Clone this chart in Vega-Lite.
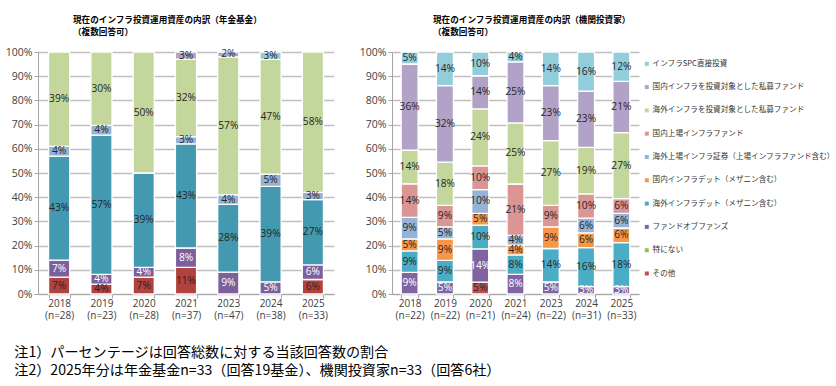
{
  "$schema": "https://vega.github.io/schema/vega-lite/v6.json",
  "background": "white",
  "padding": {"left": 5, "top": 15, "right": 0, "bottom": 0},
  "config": {
    "view": {"stroke": null},
    "font": "Open Sans",
    "axis": {
      "domainColor": "#A6A6A6",
      "tickColor": "#A6A6A6",
      "gridColor": "#BFBFBF",
      "gridWidth": 1.3,
      "labelColor": "#404040",
      "labelFontSize": 10.5,
      "labelFont": "Open Sans",
      "tickSize": 4
    },
    "legend": {
      "labelFont": "Noto Sans CJK JP",
      "labelFontSize": 7.6,
      "labelColor": "#333333"
    }
  },
  "title": {
    "text": ["注1）パーセンテージは回答総数に対する当該回答数の割合", "注2）2025年分は年金基金n=33（回答19基金）、機関投資家n=33（回答6社）"],
    "orient": "bottom",
    "anchor": "start",
    "font": "Noto Sans CJK JP",
    "fontSize": 14.1,
    "fontWeight": "normal",
    "lineHeight": 18,
    "color": "#000000",
    "offset": 25,
    "dx": 9
  },
  "datasets": {
    "pension": [
      {"x": "2018|(n=28)", "cat": "その他", "k": 9, "v": 7},
      {"x": "2018|(n=28)", "cat": "ファンドオブファンズ", "k": 7, "v": 7},
      {"x": "2018|(n=28)", "cat": "海外インフラデット（メザニン含む）", "k": 6, "v": 43},
      {"x": "2018|(n=28)", "cat": "海外上場インフラ証券（上場インフラファンド含む）", "k": 4, "v": 4},
      {"x": "2018|(n=28)", "cat": "海外インフラを投資対象とした私募ファンド", "k": 2, "v": 39},
      {"x": "2019|(n=23)", "cat": "その他", "k": 9, "v": 4},
      {"x": "2019|(n=23)", "cat": "ファンドオブファンズ", "k": 7, "v": 4},
      {"x": "2019|(n=23)", "cat": "海外インフラデット（メザニン含む）", "k": 6, "v": 57},
      {"x": "2019|(n=23)", "cat": "海外上場インフラ証券（上場インフラファンド含む）", "k": 4, "v": 4},
      {"x": "2019|(n=23)", "cat": "海外インフラを投資対象とした私募ファンド", "k": 2, "v": 30},
      {"x": "2020|(n=28)", "cat": "その他", "k": 9, "v": 7},
      {"x": "2020|(n=28)", "cat": "ファンドオブファンズ", "k": 7, "v": 4},
      {"x": "2020|(n=28)", "cat": "海外インフラデット（メザニン含む）", "k": 6, "v": 39},
      {"x": "2020|(n=28)", "cat": "海外インフラを投資対象とした私募ファンド", "k": 2, "v": 50},
      {"x": "2021|(n=37)", "cat": "その他", "k": 9, "v": 11},
      {"x": "2021|(n=37)", "cat": "ファンドオブファンズ", "k": 7, "v": 8},
      {"x": "2021|(n=37)", "cat": "海外インフラデット（メザニン含む）", "k": 6, "v": 43},
      {"x": "2021|(n=37)", "cat": "海外上場インフラ証券（上場インフラファンド含む）", "k": 4, "v": 3},
      {"x": "2021|(n=37)", "cat": "海外インフラを投資対象とした私募ファンド", "k": 2, "v": 32},
      {"x": "2021|(n=37)", "cat": "国内インフラを投資対象とした私募ファンド", "k": 1, "v": 3},
      {"x": "2023|(n=47)", "cat": "ファンドオブファンズ", "k": 7, "v": 9},
      {"x": "2023|(n=47)", "cat": "海外インフラデット（メザニン含む）", "k": 6, "v": 28},
      {"x": "2023|(n=47)", "cat": "海外上場インフラ証券（上場インフラファンド含む）", "k": 4, "v": 4},
      {"x": "2023|(n=47)", "cat": "海外インフラを投資対象とした私募ファンド", "k": 2, "v": 57},
      {"x": "2023|(n=47)", "cat": "国内インフラを投資対象とした私募ファンド", "k": 1, "v": 2},
      {"x": "2024|(n=38)", "cat": "ファンドオブファンズ", "k": 7, "v": 5},
      {"x": "2024|(n=38)", "cat": "海外インフラデット（メザニン含む）", "k": 6, "v": 39},
      {"x": "2024|(n=38)", "cat": "海外上場インフラ証券（上場インフラファンド含む）", "k": 4, "v": 5},
      {"x": "2024|(n=38)", "cat": "海外インフラを投資対象とした私募ファンド", "k": 2, "v": 47},
      {"x": "2024|(n=38)", "cat": "インフラSPC直接投資", "k": 0, "v": 3},
      {"x": "2025|(n=33)", "cat": "その他", "k": 9, "v": 6},
      {"x": "2025|(n=33)", "cat": "ファンドオブファンズ", "k": 7, "v": 6},
      {"x": "2025|(n=33)", "cat": "海外インフラデット（メザニン含む）", "k": 6, "v": 27},
      {"x": "2025|(n=33)", "cat": "海外上場インフラ証券（上場インフラファンド含む）", "k": 4, "v": 3},
      {"x": "2025|(n=33)", "cat": "海外インフラを投資対象とした私募ファンド", "k": 2, "v": 58}
    ],
    "inst": [
      {"x": "2018|(n=22)", "cat": "ファンドオブファンズ", "k": 7, "v": 9},
      {"x": "2018|(n=22)", "cat": "海外インフラデット（メザニン含む）", "k": 6, "v": 9},
      {"x": "2018|(n=22)", "cat": "国内インフラデット（メザニン含む）", "k": 5, "v": 5},
      {"x": "2018|(n=22)", "cat": "海外上場インフラ証券（上場インフラファンド含む）", "k": 4, "v": 9},
      {"x": "2018|(n=22)", "cat": "国内上場インフラファンド", "k": 3, "v": 14},
      {"x": "2018|(n=22)", "cat": "海外インフラを投資対象とした私募ファンド", "k": 2, "v": 14},
      {"x": "2018|(n=22)", "cat": "国内インフラを投資対象とした私募ファンド", "k": 1, "v": 36},
      {"x": "2018|(n=22)", "cat": "インフラSPC直接投資", "k": 0, "v": 5},
      {"x": "2019|(n=22)", "cat": "ファンドオブファンズ", "k": 7, "v": 5},
      {"x": "2019|(n=22)", "cat": "海外インフラデット（メザニン含む）", "k": 6, "v": 9},
      {"x": "2019|(n=22)", "cat": "国内インフラデット（メザニン含む）", "k": 5, "v": 9},
      {"x": "2019|(n=22)", "cat": "海外上場インフラ証券（上場インフラファンド含む）", "k": 4, "v": 5},
      {"x": "2019|(n=22)", "cat": "国内上場インフラファンド", "k": 3, "v": 9},
      {"x": "2019|(n=22)", "cat": "海外インフラを投資対象とした私募ファンド", "k": 2, "v": 18},
      {"x": "2019|(n=22)", "cat": "国内インフラを投資対象とした私募ファンド", "k": 1, "v": 32},
      {"x": "2019|(n=22)", "cat": "インフラSPC直接投資", "k": 0, "v": 14},
      {"x": "2020|(n=21)", "cat": "その他", "k": 9, "v": 5},
      {"x": "2020|(n=21)", "cat": "ファンドオブファンズ", "k": 7, "v": 14},
      {"x": "2020|(n=21)", "cat": "海外インフラデット（メザニン含む）", "k": 6, "v": 10},
      {"x": "2020|(n=21)", "cat": "国内インフラデット（メザニン含む）", "k": 5, "v": 5},
      {"x": "2020|(n=21)", "cat": "海外上場インフラ証券（上場インフラファンド含む）", "k": 4, "v": 10},
      {"x": "2020|(n=21)", "cat": "国内上場インフラファンド", "k": 3, "v": 10},
      {"x": "2020|(n=21)", "cat": "海外インフラを投資対象とした私募ファンド", "k": 2, "v": 24},
      {"x": "2020|(n=21)", "cat": "国内インフラを投資対象とした私募ファンド", "k": 1, "v": 14},
      {"x": "2020|(n=21)", "cat": "インフラSPC直接投資", "k": 0, "v": 10},
      {"x": "2021|(n=24)", "cat": "ファンドオブファンズ", "k": 7, "v": 8},
      {"x": "2021|(n=24)", "cat": "海外インフラデット（メザニン含む）", "k": 6, "v": 8},
      {"x": "2021|(n=24)", "cat": "国内インフラデット（メザニン含む）", "k": 5, "v": 4},
      {"x": "2021|(n=24)", "cat": "海外上場インフラ証券（上場インフラファンド含む）", "k": 4, "v": 4},
      {"x": "2021|(n=24)", "cat": "国内上場インフラファンド", "k": 3, "v": 21},
      {"x": "2021|(n=24)", "cat": "海外インフラを投資対象とした私募ファンド", "k": 2, "v": 25},
      {"x": "2021|(n=24)", "cat": "国内インフラを投資対象とした私募ファンド", "k": 1, "v": 25},
      {"x": "2021|(n=24)", "cat": "インフラSPC直接投資", "k": 0, "v": 4},
      {"x": "2023|(n=22)", "cat": "ファンドオブファンズ", "k": 7, "v": 5},
      {"x": "2023|(n=22)", "cat": "海外インフラデット（メザニン含む）", "k": 6, "v": 14},
      {"x": "2023|(n=22)", "cat": "国内インフラデット（メザニン含む）", "k": 5, "v": 9},
      {"x": "2023|(n=22)", "cat": "国内上場インフラファンド", "k": 3, "v": 9},
      {"x": "2023|(n=22)", "cat": "海外インフラを投資対象とした私募ファンド", "k": 2, "v": 27},
      {"x": "2023|(n=22)", "cat": "国内インフラを投資対象とした私募ファンド", "k": 1, "v": 23},
      {"x": "2023|(n=22)", "cat": "インフラSPC直接投資", "k": 0, "v": 14},
      {"x": "2024|(n=31)", "cat": "ファンドオブファンズ", "k": 7, "v": 3},
      {"x": "2024|(n=31)", "cat": "海外インフラデット（メザニン含む）", "k": 6, "v": 16},
      {"x": "2024|(n=31)", "cat": "国内インフラデット（メザニン含む）", "k": 5, "v": 6},
      {"x": "2024|(n=31)", "cat": "海外上場インフラ証券（上場インフラファンド含む）", "k": 4, "v": 6},
      {"x": "2024|(n=31)", "cat": "国内上場インフラファンド", "k": 3, "v": 10},
      {"x": "2024|(n=31)", "cat": "海外インフラを投資対象とした私募ファンド", "k": 2, "v": 19},
      {"x": "2024|(n=31)", "cat": "国内インフラを投資対象とした私募ファンド", "k": 1, "v": 23},
      {"x": "2024|(n=31)", "cat": "インフラSPC直接投資", "k": 0, "v": 16},
      {"x": "2025|(n=33)", "cat": "ファンドオブファンズ", "k": 7, "v": 3},
      {"x": "2025|(n=33)", "cat": "海外インフラデット（メザニン含む）", "k": 6, "v": 18},
      {"x": "2025|(n=33)", "cat": "国内インフラデット（メザニン含む）", "k": 5, "v": 6},
      {"x": "2025|(n=33)", "cat": "海外上場インフラ証券（上場インフラファンド含む）", "k": 4, "v": 6},
      {"x": "2025|(n=33)", "cat": "国内上場インフラファンド", "k": 3, "v": 6},
      {"x": "2025|(n=33)", "cat": "海外インフラを投資対象とした私募ファンド", "k": 2, "v": 27},
      {"x": "2025|(n=33)", "cat": "国内インフラを投資対象とした私募ファンド", "k": 1, "v": 21},
      {"x": "2025|(n=33)", "cat": "インフラSPC直接投資", "k": 0, "v": 12}
    ]
  },
  "resolve": {"scale": {"color": "independent"}},
  "spacing": 25,
  "hconcat": [
    {
      "width": 296,
      "height": 242,
      "title": {
        "text": ["現在のインフラ投資運用資産の内訳（年金基金）", "（複数回答可）"],
        "anchor": "start",
        "frame": "group",
        "dx": 35,
        "font": "Noto Sans CJK JP",
        "fontSize": 8.6,
        "fontWeight": "bold",
        "lineHeight": 12.5,
        "color": "#000000",
        "offset": 10
      },
      "data": {"name": "pension"},
      "transform": [
        {"stack": "v", "groupby": ["x"], "sort": [{"field": "k", "order": "descending"}], "as": ["y0", "y1"], "offset": "normalize"},
        {"calculate": "(datum.y0 + datum.y1) / 2", "as": "ym"},
        {"calculate": "datum.v + '%'", "as": "lbl"}
      ],
      "encoding": {
        "x": {
          "field": "x", "type": "nominal", "title": null,
          "scale": {"paddingInner": 0.5, "paddingOuter": 0.25},
          "axis": {"labelAngle": 0, "labelExpr": "datum.value ? split(datum.value, '|') : ''", "tickBand": "extent", "labelFontSize": 10, "labelLineHeight": 12.5, "labelPadding": 0}
        }
      },
      "layer": [
        {
          "mark": {"type": "bar", "stroke": "white", "strokeWidth": 1.3},
          "encoding": {
            "y": {"field": "y0", "type": "quantitative", "title": null, "scale": {"domain": [0, 1]}, "axis": {"format": ".0%", "tickCount": 10, "labelPadding": 2}},
            "y2": {"field": "y1"},
            "color": {
              "field": "cat", "type": "nominal", "legend": null,
              "scale": {
                "domain": ["インフラSPC直接投資", "国内インフラを投資対象とした私募ファンド", "海外インフラを投資対象とした私募ファンド", "海外上場インフラ証券（上場インフラファンド含む）", "海外インフラデット（メザニン含む）", "ファンドオブファンズ", "その他"],
                "range": ["#92CDDC", "#B3A2C7", "#C3D69B", "#95B3D7", "#4299B0", "#7D5F9B", "#B0423F"]
              }
            }
          }
        },
        {
          "mark": {"type": "text", "fontSize": 10.2, "font": "Open Sans"},
          "encoding": {
            "y": {"field": "ym", "type": "quantitative"},
            "text": {"field": "lbl"},
            "color": {"condition": {"test": "datum.cat === 'ファンドオブファンズ'", "value": "#FFFFFF"}, "value": "#262626"}
          }
        }
      ]
    },
    {
      "width": 247,
      "height": 242,
      "title": {
        "text": ["現在のインフラ投資運用資産の内訳（機関投資家）", "（複数回答可）"],
        "anchor": "start",
        "frame": "group",
        "dx": 41,
        "font": "Noto Sans CJK JP",
        "fontSize": 8.6,
        "fontWeight": "bold",
        "lineHeight": 12.5,
        "color": "#000000",
        "offset": 10
      },
      "data": {"name": "inst"},
      "transform": [
        {"stack": "v", "groupby": ["x"], "sort": [{"field": "k", "order": "descending"}], "as": ["y0", "y1"], "offset": "normalize"},
        {"calculate": "(datum.y0 + datum.y1) / 2", "as": "ym"},
        {"calculate": "datum.v + '%'", "as": "lbl"}
      ],
      "encoding": {
        "x": {
          "field": "x", "type": "nominal", "title": null,
          "scale": {"paddingInner": 0.52, "paddingOuter": 0.26},
          "axis": {"labelAngle": 0, "labelExpr": "datum.value ? split(datum.value, '|') : ''", "tickBand": "extent", "labelFontSize": 10, "labelLineHeight": 12.5, "labelPadding": 0}
        }
      },
      "layer": [
        {
          "mark": {"type": "bar", "stroke": "white", "strokeWidth": 1.3},
          "encoding": {
            "y": {"field": "y0", "type": "quantitative", "title": null, "scale": {"domain": [0, 1]}, "axis": {"format": ".0%", "tickCount": 10, "labelPadding": 2}},
            "y2": {"field": "y1"},
            "color": {
              "field": "cat", "type": "nominal",
              "scale": {
                "domain": ["インフラSPC直接投資", "国内インフラを投資対象とした私募ファンド", "海外インフラを投資対象とした私募ファンド", "国内上場インフラファンド", "海外上場インフラ証券（上場インフラファンド含む）", "国内インフラデット（メザニン含む）", "海外インフラデット（メザニン含む）", "ファンドオブファンズ", "特にない", "その他"],
                "range": ["#92CDDC", "#B3A2C7", "#C3D69B", "#D99694", "#95B3D7", "#F79646", "#4BACC6", "#8064A2", "#9BBB59", "#C0504D"]
              },
              "legend": {
                "title": null,
                "orient": "none",
                "legendX": 251,
                "legendY": 8,
                "symbolType": "square",
                "symbolSize": 16,
                "symbolStrokeWidth": 0,
                "rowPadding": 14.3,
                "labelOffset": 2,
                "labelLimit": 250
              }
            }
          }
        },
        {
          "mark": {"type": "text", "fontSize": 10.2, "font": "Open Sans"},
          "encoding": {
            "y": {"field": "ym", "type": "quantitative"},
            "text": {"field": "lbl"},
            "color": {"condition": {"test": "datum.cat === 'ファンドオブファンズ'", "value": "#FFFFFF"}, "value": "#262626"}
          }
        }
      ]
    }
  ]
}
